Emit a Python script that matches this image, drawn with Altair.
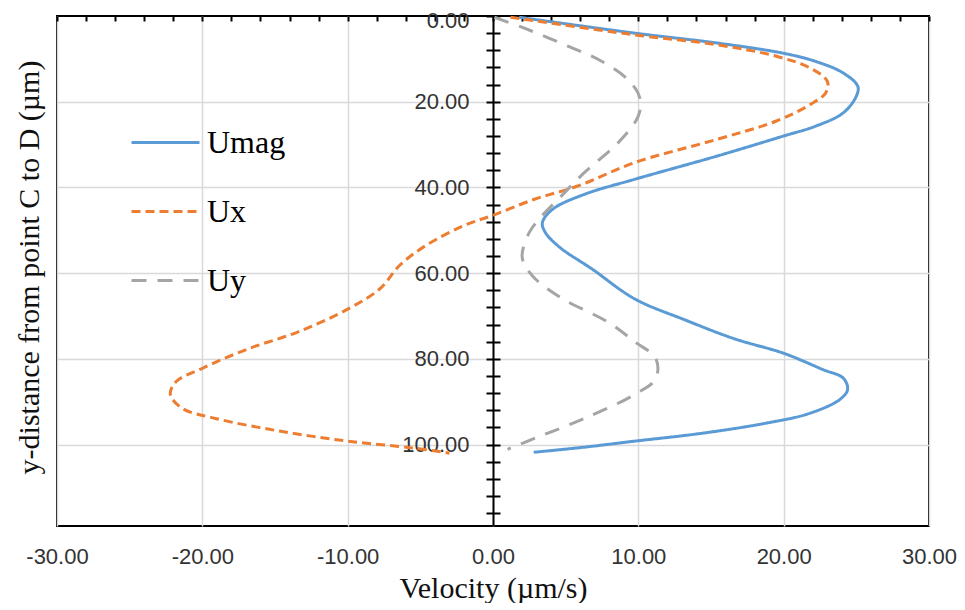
import altair as alt
import pandas as pd

# Series values (x = velocity, y = distance)
umag_x = [1.8, 9.75, 15.4, 20.0, 22.2, 24.1, 25.1, 25.0, 24.1, 22.2, 20.0, 15.4, 9.75, 6.3, 4.1, 3.4, 3.6, 4.6, 6.8,
          9.75, 13.2, 16.6, 20.0, 22.7, 24.1, 24.4, 23.9, 21.8, 18.8, 14.3, 9.75, 6.3, 2.8]
umag_y = [0.3, 4.0, 6.3, 8.7, 10.6, 13.3, 16.4, 18.7, 22.6, 25.7, 28.0, 32.7, 38.1, 41.6, 45.1, 48.2, 50.5, 54.0, 59.0,
          66.0, 70.9, 75.3, 78.7, 82.5, 84.5, 87.1, 89.4, 92.7, 95.0, 97.4, 99.2, 100.6, 101.8]

ux_x = [1.2, 9.75, 15.4, 19.5, 21.8, 23.0, 22.9, 21.8, 19.5, 15.4, 9.75, 5.9, 2.9, 0.0, -2.0, -4.6, -6.4, -7.8,
        -10.0, -13.4, -16.8, -20.0, -21.8, -22.2, -21.4, -19.1, -14.6, -10.0, -5.5, -3.0]
ux_y = [0.3, 4.4, 6.7, 9.4, 12.1, 15.2, 17.9, 20.7, 24.5, 28.8, 34.2, 39.6, 42.7, 46.5, 48.9, 53.5, 58.1, 63.7,
        68.4, 73.7, 77.6, 82.2, 85.3, 88.3, 91.5, 93.9, 96.9, 99.2, 100.8, 102.0]

uy_x = [0.1, 2.2, 5.2, 7.5, 9.3, 10.1, 10.0, 8.6, 6.3, 4.5, 3.4, 2.5, 2.0, 2.2, 2.9, 4.8, 7.9, 9.75, 11.2, 11.2,
        9.75, 6.3, 2.9, 1.0]
uy_y = [0.3, 2.9, 7.1, 10.6, 14.9, 19.1, 23.3, 29.6, 36.5, 42.7, 46.5, 50.5, 55.8, 58.2, 61.3, 66.0, 71.4, 76.0,
        79.9, 84.6, 88.3, 93.9, 98.5, 101.1]

series_names = ["Umag", "Ux", "Uy"]
series_colors = ["#5B9BD5", "#ED7D31", "#A5A5A5"]
series_dashes = [[1, 0], [9, 5], [15, 11]]

x_ticks = [-30, -20, -10, 0, 10, 20, 30]
x_minor = list(range(-30, 31, 2))
y_minor = list(range(0, 117, 4))
y_grid = [20, 40, 60, 80, 100]

rows = []
for name, xs, ys in [("Umag", umag_x, umag_y), ("Ux", ux_x, ux_y), ("Uy", uy_x, uy_y)]:
    for i, (xv, yv) in enumerate(zip(xs, ys)):
        rows.append({"series": name, "vel": xv, "dist": yv, "idx": i})
df = pd.DataFrame(rows)

W, H = 872, 510
xscale = alt.Scale(domain=[-30, 30], nice=False, zero=False)
yscale = alt.Scale(domain=[0, 119], nice=False, reverse=True, zero=False)

base = alt.Chart(df)

legend_cfg = dict(orient="none", legendX=73, legendY=91, title=None,
                  symbolType="stroke", symbolSize=4624, symbolStrokeWidth=3,
                  labelFont="Liberation Serif", labelFontSize=32, labelColor="black",
                  labelOffset=6, rowPadding=17, padding=0)

lines = base.mark_line(strokeWidth=3, interpolate="catmull-rom").encode(
    x=alt.X("vel:Q", scale=xscale, axis=alt.Axis(
        orient="bottom", values=x_ticks, labelExpr="replace(format(datum.value, '.2f'), '\u2212', '-')",
        labelFlush=False, grid=True, gridColor="#D9D9D9", gridWidth=1.5,
        ticks=False, tickSize=0, domain=False, labelFont="Liberation Sans", labelFontSize=22,
        labelColor="#333333", labelPadding=20, title="Velocity (µm/s)", titleFont="Liberation Serif",
        titleFontSize=30, titleFontWeight="normal", titleColor="#111111", titleBaseline="alphabetic",
        titleY=71)),
    y=alt.Y("dist:Q", scale=yscale, axis=alt.Axis(
        orient="left", offset=-W / 2, values=y_minor,
        labelExpr="datum.value % 20 === 0 && datum.value <= 100 ? format(datum.value, '.2f') : ''",
        labelOffset={"condition": {"test": "datum.value === 0", "value": 4}, "value": 0},
        labelFlush=False, grid=False, domain=True, domainColor="black", domainWidth=2, ticks=True, tickSize=7,
        tickColor="black", tickWidth=2, labelFont="Liberation Sans", labelFontSize=22,
        labelColor="#333333", labelPadding=17, title=None)),
    color=alt.Color("series:N", scale=alt.Scale(domain=series_names, range=series_colors),
                    legend=alt.Legend(**legend_cfg)),
    strokeDash=alt.StrokeDash("series:N", scale=alt.Scale(domain=series_names, range=series_dashes),
                              legend=alt.Legend(**legend_cfg)),
    order=alt.Order("idx:Q"),
)

right_ticks = base.mark_line(opacity=0).encode(
    x=alt.X("vel:Q", scale=xscale, axis=None),
    y=alt.Y("dist:Q", scale=yscale, axis=alt.Axis(
        orient="right", offset=-W / 2, values=y_minor, labels=False, grid=False, domain=False,
        ticks=True, tickSize=7, tickColor="black", tickWidth=2, title=None)),
    detail="series:N", order=alt.Order("idx:Q"),
)

grid_layer = base.mark_line(opacity=0).encode(
    x=alt.X("vel:Q", scale=xscale, axis=alt.Axis(
        orient="top", offset=-5, values=x_minor, labels=False, grid=False, domain=False,
        ticks=True, tickSize=5, tickColor="black", tickWidth=2, title=None)),
    y=alt.Y("dist:Q", scale=yscale, axis=alt.Axis(
        orient="left", values=y_grid, labels=False, ticks=False, domain=False, grid=True,
        gridColor="#D9D9D9", gridWidth=1.5, title="y-distance from point C to D (µm)",
        titleFont="Liberation Serif", titleFontSize=30, titleFontWeight="normal", titleColor="#111111",
        titleAngle=270, titleBaseline="middle", titleX=-28, titleY=251)),
    detail="series:N", order=alt.Order("idx:Q"),
)

chart = alt.layer(grid_layer, right_ticks, lines).resolve_axis(
    x="independent", y="independent"
).properties(
    width=W, height=H,
    autosize=alt.AutoSizeParams(type="none"),
    padding={"left": 49, "top": 8, "right": 28, "bottom": 77},
).configure_view(stroke="black", strokeWidth=2)

chart.save("out.html", embed_options={"renderer": "svg", "actions": False})
